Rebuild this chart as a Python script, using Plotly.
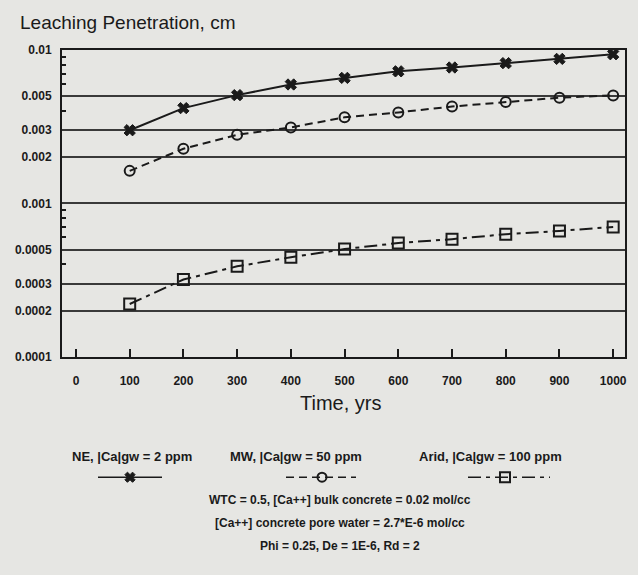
import plotly.graph_objects as go

# ---- data ----
years = [100, 200, 300, 400, 500, 600, 700, 800, 900, 1000]
ne_vals = [0.00300, 0.00418, 0.00508, 0.00596, 0.00658, 0.00726, 0.00769, 0.00821, 0.00875, 0.00938]
mw_vals = [0.00163, 0.00227, 0.00280, 0.00313, 0.00364, 0.00392, 0.00428, 0.00458, 0.00489, 0.00506]
arid_vals = [0.000221, 0.000319, 0.000389, 0.000446, 0.000504, 0.000552, 0.000585, 0.000630, 0.000662, 0.000703]

y_tickvals = [0.0001, 0.0002, 0.0003, 0.0005, 0.001, 0.002, 0.003, 0.005, 0.01]
y_ticktext = ["0.0001", "0.0002", "0.0003", "0.0005", "0.001", "0.002", "0.003", "0.005", "0.01"]
y_minor = [0.0004, 0.0006, 0.0007, 0.0008, 0.0009, 0.004, 0.006, 0.007, 0.008, 0.009]
x_tickvals = [0, 100, 200, 300, 400, 500, 600, 700, 800, 900, 1000]

series_names = ["NE, |Ca|gw = 2 ppm", "MW, |Ca|gw = 50 ppm", "Arid, |Ca|gw = 100 ppm"]
notes = [
    "WTC = 0.5, [Ca++] bulk concrete = 0.02 mol/cc",
    "[Ca++] concrete pore water = 2.7*E-6 mol/cc",
    "Phi = 0.25, De = 1E-6, Rd = 2",
]

BG = "#e6e6e3"
INK = "#1a1a1a"
FONT = "Liberation Sans Narrow, Arial Narrow, Liberation Sans, sans-serif"

W, H = 638, 575
ML, MR, MT, MB = 62, 13, 50, 0
plot_bottom_px = 361
ydom0 = (H - plot_bottom_px) / (H - MT - MB)

styles = [
    dict(dash="solid", symbol="x", size=10, lw=0),
    dict(dash="8px,5px", symbol="circle-open", size=10, lw=2),
    dict(dash="13px,5px,4px,5px", symbol="square-open", size=11, lw=2),
]

fig = go.Figure()
for name, vals, st in zip(series_names, [ne_vals, mw_vals, arid_vals], styles):
    fig.add_trace(go.Scatter(
        x=years, y=vals, mode="lines+markers", name=name,
        line=dict(color=INK, width=2, dash=st["dash"]),
        marker=dict(symbol=st["symbol"], size=st["size"], color=INK,
                    line=dict(color=INK, width=st["lw"] if st["lw"] else 1)),
        xaxis="x", yaxis="y", showlegend=False,
    ))

# ---- legend samples on a pixel-space overlay axis ----
leg_x_text = [132, 296, 490]
leg_sample = [(98, 162, 130), (286, 356, 322), (468, 550, 505)]
leg_y_text, leg_y_sample = 462, 483
for (x0, x1, xm), st in zip(leg_sample, styles):
    fig.add_trace(go.Scatter(
        x=[x0, xm, x1], y=[leg_y_sample] * 3, mode="lines",
        line=dict(color=INK, width=1.5, dash=st["dash"]),
        xaxis="x2", yaxis="y2", showlegend=False, hoverinfo="skip"))
    fig.add_trace(go.Scatter(
        x=[xm], y=[leg_y_sample], mode="markers",
        marker=dict(symbol=st["symbol"], size=st["size"] - 1, color=INK,
                    line=dict(color=INK, width=2 if st["lw"] else 1)),
        xaxis="x2", yaxis="y2", showlegend=False, hoverinfo="skip"))

annotations = []
for name, xt in zip(series_names, leg_x_text):
    annotations.append(dict(x=xt, y=leg_y_text, xref="x2", yref="y2", text="<b>" + name + "</b>",
                            showarrow=False, font=dict(family=FONT, size=13, color=INK)))
for i, t in enumerate(notes):
    annotations.append(dict(x=340, y=506 + i * 23.5, xref="x2", yref="y2", text="<b>" + t + "</b>",
                            showarrow=False, font=dict(family=FONT, size=12, color=INK)))
annotations.append(dict(x=340, y=408, xref="x2", yref="y2", text="Time, yrs",
                        showarrow=False, font=dict(family=FONT, size=20, color=INK)))
# title (paper coords: fraction of plot area)
annotations.append(dict(x=(18 - ML) / (W - ML - MR), y=(H - MB - 22) / (H - MT - MB),
                        xref="paper", yref="paper", text="Leaching Penetration, cm",
                        xanchor="left", yanchor="middle", showarrow=False,
                        font=dict(family=FONT, size=19, color=INK)))

fig.update_layout(
    width=W, height=H,
    margin=dict(l=ML, r=MR, t=MT, b=MB),
    paper_bgcolor=BG, plot_bgcolor="rgba(0,0,0,0)",
    showlegend=False,
    annotations=annotations,
    xaxis=dict(
        domain=[0, 1], anchor="y", range=[-26, 1022],
        tickmode="array", tickvals=x_tickvals,
        ticktext=[str(v) for v in x_tickvals],
        ticks="inside", ticklen=8, tickwidth=2, tickcolor=INK,
        ticklabelstandoff=12,
        showgrid=False, zeroline=False,
        showline=True, linecolor=INK, linewidth=2, mirror=True,
        tickfont=dict(family=FONT, size=12, color=INK, weight="bold"),
    ),
    yaxis=dict(
        domain=[ydom0, 1], anchor="x", type="log", range=[-4, -2],
        tickmode="array", tickvals=y_tickvals, ticktext=y_ticktext,
        ticks="", showgrid=True, gridcolor="#3a3a3a", gridwidth=2,
        ticklabelstandoff=6,
        showline=True, linecolor=INK, linewidth=2, mirror=True,
        tickfont=dict(family=FONT, size=12, color=INK, weight="bold"),
        minor=dict(tickmode="array", tickvals=y_minor, ticks="inside",
                   ticklen=4, tickwidth=2, tickcolor=INK, showgrid=False),
    ),
    xaxis2=dict(domain=[0, 1], anchor="y2", range=[ML, W - MR],
                visible=False, fixedrange=True),
    yaxis2=dict(domain=[0, 1], anchor="x2", range=[H, MT],
                visible=False, fixedrange=True),
)

fig.write_html("out.html")
